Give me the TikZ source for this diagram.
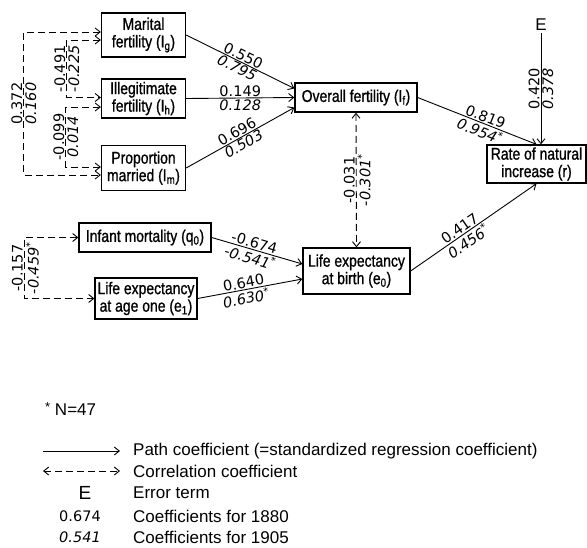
\documentclass[tikz,border=0pt]{standalone}
\usepackage{fontspec}
\setmainfont{Liberation Sans}
\newfontfamily\boxfont{Liberation Sans}[FakeStretch=0.82, FakeBold=1]
\newfontfamily\numfont{DejaVu Sans}
\usetikzlibrary{arrows.meta}

\begin{document}
\begin{tikzpicture}[x=1pt, y=-1pt,
  box/.style={draw, line width=1.3pt, align=center, inner sep=2pt, font=\boxfont\fontsize{17}{17.5}\selectfont},
  path/.style={-{Straight Barb[length=5pt,width=8pt]}, line width=0.9pt},
  corr/.style={{Straight Barb[length=5pt,width=8pt]}-{Straight Barb[length=5pt,width=8pt]}, dash pattern=on 7pt off 4pt, line width=0.9pt},
  coef/.style={inner sep=1pt, font=\numfont\fontsize{14.5}{16}\selectfont},
  coefb/.style={inner sep=1pt, font=\numfont\fontsize{14.5}{16}\selectfont\itshape},
  legend/.style={anchor=west, inner sep=1pt, font=\fontsize{17}{18}\selectfont}]
\useasboundingbox (0,0) rectangle (587,547);

% fertility
\node[box, minimum width=84, minimum height=44] (marital) at (143.5,35) {Marital\\fertility (I\textsubscript{g})};
\node[box, minimum width=84, minimum height=39] (illeg) at (143.5,98.5) {Illegitimate\\fertility (I\textsubscript{h})};
\node[box, minimum width=84, minimum height=45] (prop) at (143.5,168) {Proportion\\married (I\textsubscript{m})};
\node[box, minimum width=122, minimum height=29] (over) at (356,97.5) {Overall fertility (I\textsubscript{f})};

% mortality
\node[box, minimum width=132, minimum height=29] (infant) at (145,237.5) {Infant mortality (q\textsubscript{0})};
\node[box, minimum width=102, minimum height=41] (lifeone) at (146,298.5) {Life expectancy\\at age one (e\textsubscript{1})};
\node[box, minimum width=107, minimum height=46] (lifeb) at (356.5,271) {Life expectancy\\at birth (e\textsubscript{0})};

% outcome
\node[box, minimum width=99, minimum height=38] (rate) at (536.5,164) {Rate of natural\\increase (r)};
\node[font=\fontsize{17}{17}\selectfont, inner sep=2pt] (err) at (541,25) {E};

% path coefficients
\draw[path] (marital.east) -- node[coef, sloped, above] {0.550} node[coefb, sloped, below] {0.795} ([yshift=9]over.west);
\draw[path] (illeg.east) -- node[coef, above] {0.149} node[coefb, below] {0.128} ([yshift=0]over.west);
\draw[path] (prop.east) -- node[coef, sloped, above] {0.696} node[coefb, sloped, below] {0.503} ([yshift=-10]over.west);
\draw[path] (over.east) -- node[coef, sloped, above, pos=0.55] {0.819} node[coefb, sloped, below, pos=0.55] {0.954\textsuperscript{*}} (rate.north);
\draw[path] (infant.east) -- node[coef, sloped, above, pos=0.45] {-0.674} node[coefb, sloped, below, pos=0.45] {-0.541\textsuperscript{*}} ([yshift=7]lifeb.west);
\draw[path] (lifeone.east) -- node[coef, sloped, above, pos=0.45] {0.640} node[coefb, sloped, below, pos=0.45] {0.630\textsuperscript{*}} ([yshift=-8]lifeb.west);
\draw[path] (lifeb.east) -- node[coef, sloped, above, pos=0.42] {0.417} node[coefb, sloped, below, pos=0.42] {0.456\textsuperscript{*}} (rate.south);
\draw[path] (err.south) -- node[coef, rotate=90, anchor=south] {0.420} node[coefb, rotate=90, anchor=north] {0.378} (err.south |- rate.north);

% correlations
\draw[corr] ([yshift=3]marital.west) -- ++(-77,0) |- node[pos=0.25, coef, rotate=90, anchor=south] {0.372} node[pos=0.25, coefb, rotate=90, anchor=north] {0.160} ([yshift=-7]prop.west);
\draw[corr] ([yshift=-5]marital.west) -- ++(-34,0) |- node[pos=0.25, coef, rotate=90, anchor=south] {-0.491} node[pos=0.25, coefb, rotate=90, anchor=north] {-0.225} ([yshift=1]illeg.west);
\draw[corr] ([yshift=-8.5]illeg.west) -- ++(-35,0) |- node[pos=0.25, coef, rotate=90, anchor=south] {-0.099} node[pos=0.25, coefb, rotate=90, anchor=north] {0.014} ([yshift=1]prop.west);
\draw[corr] (infant.west) -- ++(-54,0) |- node[pos=0.25, coef, rotate=90, anchor=south] {-0.157} node[pos=0.25, coefb, rotate=90, anchor=north] {-0.459\textsuperscript{*}} (lifeone.west);
\draw[corr] (over.south) -- node[coef, rotate=90, anchor=south] {-0.031} node[coefb, rotate=90, anchor=north] {-0.301\textsuperscript{*}} (lifeb.north);

% legend
\node[legend] (note) at (44,409) {\raisebox{4pt}{\fontsize{13}{13}\selectfont *} N=47};
\coordinate (pa) at (43,451);
\coordinate (pb) at (120,451);
\draw[path] (pa) -- (pb);
\node[legend] (kpath) at (132,451) {Path coefficient (=standardized regression coefficient)};
\coordinate (ca) at (43,471);
\coordinate (cb) at (120,471);
\draw[corr] (ca) -- (cb);
\node[legend] (kcorr) at (132,471) {Correlation coefficient};
\node[font=\fontsize{19}{19}\selectfont] (ke) at (85,493) {E};
\node[legend] (kerr) at (132,493) {Error term};
\node[coef] (kold) at (80,516) {0.674};
\node[legend] (kyold) at (132,516) {Coefficients for 1880};
\node[coefb] (knew) at (80,537) {0.541};
\node[legend] (kynew) at (132,537) {Coefficients for 1905};
\end{tikzpicture}
\end{document}
